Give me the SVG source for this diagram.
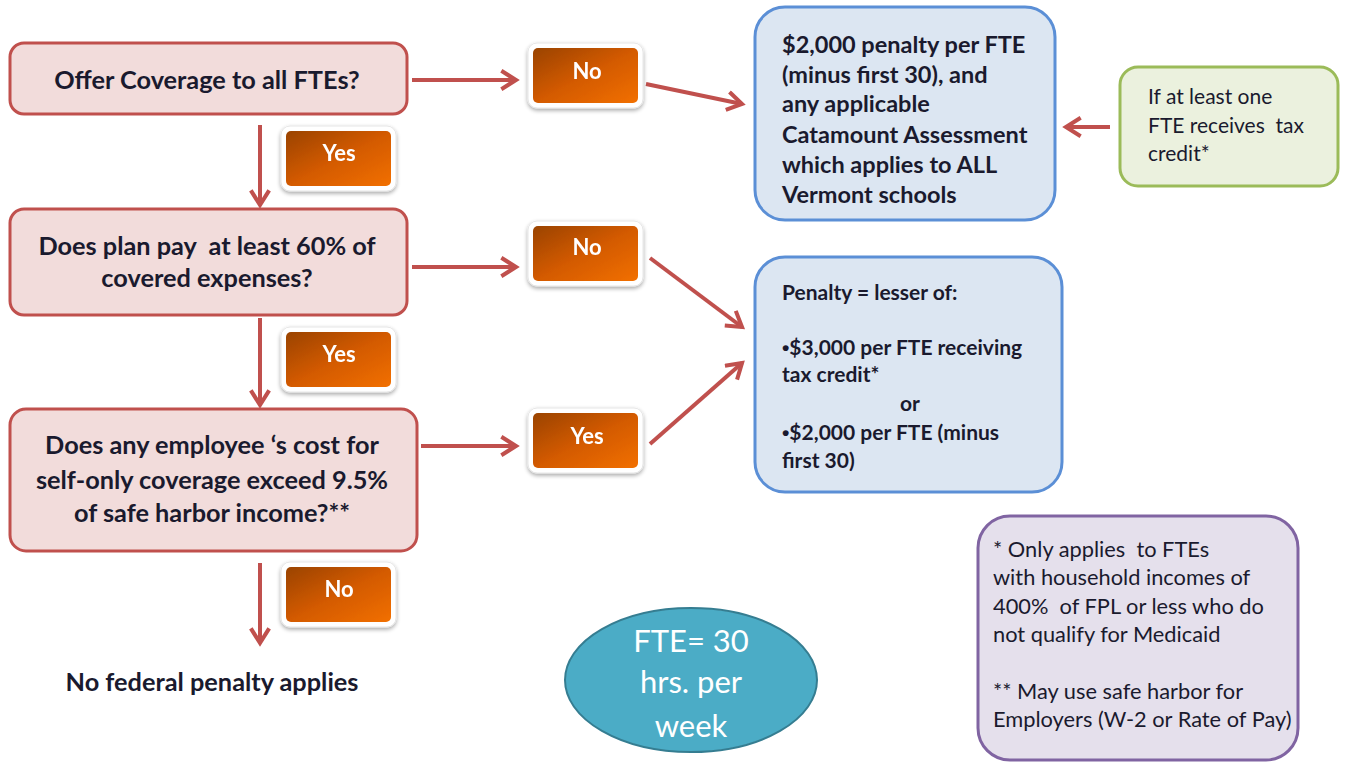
<svg xmlns="http://www.w3.org/2000/svg" width="1348" height="763" viewBox="0 0 1348 763">
  <defs>
    <linearGradient id="btnGrad" x1="0" y1="0" x2="1" y2="1">
      <stop offset="0" stop-color="#9a4300"/>
      <stop offset="0.5" stop-color="#d35a00"/>
      <stop offset="1" stop-color="#f27000"/>
    </linearGradient>
    <filter id="softShadow" x="-20%" y="-20%" width="140%" height="150%">
      <feGaussianBlur in="SourceAlpha" stdDeviation="2"/>
      <feOffset dx="0" dy="2" result="b"/>
      <feComponentTransfer><feFuncA type="linear" slope="0.35"/></feComponentTransfer>
      <feMerge><feMergeNode/><feMergeNode in="SourceGraphic"/></feMerge>
    </filter>
    <marker id="arrow" viewBox="0 0 12 12" refX="10" refY="6" markerWidth="5.5" markerHeight="5.5" orient="auto" markerUnits="strokeWidth">
      <polyline points="2,1 10,6 2,11" fill="none" stroke="#c0504d" stroke-width="2.2" stroke-linejoin="miter"/>
    </marker>
  </defs>
  <style>
    .q { fill: #f2dcdb; stroke: #c0504d; stroke-width: 3; }
    .qt { font-family: Lato, "Open Sans", sans-serif; font-weight: bold; font-size: 25.3px; fill: #1a1a2e; text-anchor: middle; white-space: pre; }
    .rim { fill: #ffffff; stroke: #e6e6e6; stroke-width: 1; }
    .btn { fill: url(#btnGrad); }
    .bt { font-family: Lato, "Open Sans", sans-serif; font-weight: bold; font-size: 22px; fill: #ffffff; text-anchor: middle; }
    .blue { fill: #dce6f2; stroke: #5b8fd6; stroke-width: 3; }
    .bl { font-family: Lato, "Open Sans", sans-serif; font-weight: bold; font-size: 23.5px; fill: #1a1a2e; }
    .bl2 { font-family: Lato, "Open Sans", sans-serif; font-weight: bold; font-size: 21px; fill: #1a1a2e; }
    .dot { font-family: "Liberation Sans", sans-serif; }
    .green { fill: #ebf1de; stroke: #9bbb59; stroke-width: 3; }
    .purple { fill: #e5e0ec; stroke: #8064a2; stroke-width: 3; }
    .note { font-family: Lato, "Open Sans", sans-serif; font-size: 21.8px; fill: #1a1a2e; white-space: pre; }
    .gnote { font-family: Lato, "Open Sans", sans-serif; font-size: 21px; fill: #1a1a2e; white-space: pre; }
    .conn { stroke: #c0504d; stroke-width: 4; fill: none; marker-end: url(#arrow); }
    .fte { font-family: Lato, "Open Sans", sans-serif; font-size: 31px; fill: #ffffff; text-anchor: middle; }
  </style>

  <!-- connectors -->
  <g id="connectors">
    <line class="conn" x1="412" y1="80" x2="516" y2="80"/>
    <line class="conn" x1="412" y1="267" x2="516" y2="267"/>
    <line class="conn" x1="421" y1="446" x2="516" y2="446"/>
    <line class="conn" x1="260" y1="125" x2="260" y2="205"/>
    <line class="conn" x1="260" y1="318" x2="260" y2="405"/>
    <line class="conn" x1="260" y1="563" x2="260" y2="643"/>
    <line class="conn" x1="646" y1="84" x2="742" y2="104"/>
    <line class="conn" x1="650" y1="258" x2="742" y2="327"/>
    <line class="conn" x1="650" y1="444" x2="742" y2="363"/>
    <line class="conn" x1="1110" y1="127" x2="1066" y2="127"/>
  </g>

  <!-- decision boxes -->
  <g id="q1">
    <rect class="q" x="10" y="43" width="397" height="71" rx="14"/>
    <text class="qt" x="207" y="89">Offer Coverage to all FTEs?</text>
  </g>
  <g id="q2">
    <rect class="q" x="10" y="209" width="397" height="106" rx="14"/>
    <text class="qt" x="207" y="255">Does plan pay  at least 60% of</text>
    <text class="qt" x="207" y="287">covered expenses?</text>
  </g>
  <g id="q3">
    <rect class="q" x="10" y="409" width="407" height="142" rx="16"/>
    <text class="qt" x="212" y="454">Does any employee ‘s cost for</text>
    <text class="qt" x="212" y="489">self-only coverage exceed 9.5%</text>
    <text class="qt" x="212" y="522">of safe harbor income?**</text>
  </g>

  <!-- branch labels -->
  <g id="lbl-yes1" filter="url(#softShadow)">
    <rect class="rim" x="281" y="126" width="115" height="65" rx="9"/>
    <rect class="btn" x="286" y="131" width="105" height="55" rx="5"/>
    <text class="bt" x="339" y="161">Yes</text>
  </g>
  <g id="lbl-yes2" filter="url(#softShadow)">
    <rect class="rim" x="281" y="327" width="115" height="65" rx="9"/>
    <rect class="btn" x="286" y="332" width="105" height="55" rx="5"/>
    <text class="bt" x="339" y="362">Yes</text>
  </g>
  <g id="lbl-no-bottom" filter="url(#softShadow)">
    <rect class="rim" x="281" y="562" width="115" height="65" rx="9"/>
    <rect class="btn" x="286" y="567" width="105" height="55" rx="5"/>
    <text class="bt" x="339" y="597">No</text>
  </g>
  <g id="lbl-no1" filter="url(#softShadow)">
    <rect class="rim" x="528" y="43" width="115" height="65" rx="9"/>
    <rect class="btn" x="533" y="48" width="105" height="55" rx="5"/>
    <text class="bt" x="587" y="79">No</text>
  </g>
  <g id="lbl-no2" filter="url(#softShadow)">
    <rect class="rim" x="528" y="221" width="115" height="65" rx="9"/>
    <rect class="btn" x="533" y="226" width="105" height="55" rx="5"/>
    <text class="bt" x="587" y="255">No</text>
  </g>
  <g id="lbl-yes3" filter="url(#softShadow)">
    <rect class="rim" x="528" y="408" width="115" height="65" rx="9"/>
    <rect class="btn" x="533" y="413" width="105" height="55" rx="5"/>
    <text class="bt" x="587" y="444">Yes</text>
  </g>

  <!-- outcomes -->
  <g id="penalty-2000">
    <rect class="blue" x="755" y="7" width="300" height="213" rx="30"/>
    <text class="bl" x="782" y="53">$2,000 penalty per FTE</text>
    <text class="bl" x="782" y="83">(minus first 30), and</text>
    <text class="bl" x="782" y="112">any applicable</text>
    <text class="bl" x="782" y="143">Catamount Assessment</text>
    <text class="bl" x="782" y="173">which applies to ALL</text>
    <text class="bl" x="782" y="203">Vermont schools</text>
  </g>
  <g id="tax-credit-condition">
    <rect class="green" x="1120" y="67" width="218" height="119" rx="18"/>
    <text class="gnote" x="1148" y="104">If at least one</text>
    <text class="gnote" x="1148" y="133">FTE receives  tax</text>
    <text class="gnote" x="1148" y="161">credit*</text>
  </g>
  <g id="penalty-lesser">
    <rect class="blue" x="755" y="257" width="307" height="235" rx="30"/>
    <text class="bl2" x="782" y="300">Penalty = lesser of:</text>
    <text class="bl2" x="782" y="355"><tspan class="dot">•</tspan>$3,000 per FTE receiving</text>
    <text class="bl2" x="782" y="382">tax credit*</text>
    <text class="bl2" x="910" y="411" text-anchor="middle">or</text>
    <text class="bl2" x="782" y="440"><tspan class="dot">•</tspan>$2,000 per FTE (minus</text>
    <text class="bl2" x="782" y="468">first 30)</text>
  </g>
  <g id="no-penalty">
    <text class="qt" x="212" y="691" font-size="24.6">No federal penalty applies</text>
  </g>
  <g id="fte-definition">
    <ellipse cx="691" cy="680" rx="126" ry="72" fill="#4bacc6" stroke="#357d91" stroke-width="2"/>
    <text class="fte" x="691" y="652">FTE= 30</text>
    <text class="fte" x="691" y="693">hrs. per</text>
    <text class="fte" x="691" y="737">week</text>
  </g>
  <g id="footnotes">
    <rect class="purple" x="978" y="516" width="320" height="244" rx="32"/>
    <text class="note" x="993" y="557">* Only applies  to FTEs</text>
    <text class="note" x="993" y="585">with household incomes of</text>
    <text class="note" x="993" y="614">400%  of FPL or less who do</text>
    <text class="note" x="993" y="642">not qualify for Medicaid</text>
    <text class="note" x="993" y="699">** May use safe harbor for</text>
    <text class="note" x="993" y="727">Employers (W-2 or Rate of Pay)</text>
  </g>
</svg>
